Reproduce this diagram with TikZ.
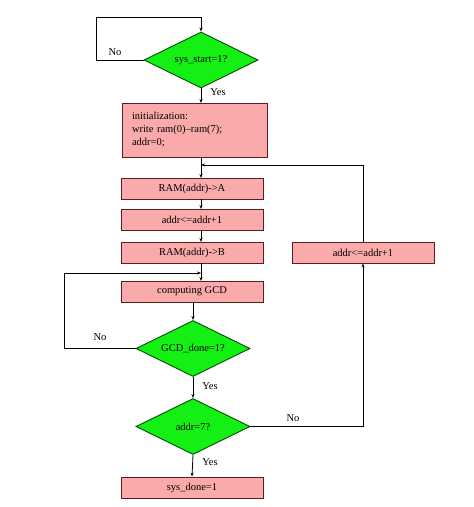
\documentclass[tikz,border=0pt]{standalone}
\usepackage{fontspec}
\setmainfont{Liberation Serif}
\usetikzlibrary{shapes.geometric,arrows.meta}
\definecolor{boxfill}{RGB}{250,170,170}
\definecolor{boxdraw}{RGB}{90,30,30}
\definecolor{dia}{RGB}{20,240,20}
\begin{document}
\begin{tikzpicture}[x=1pt,y=-1pt,font=\fontsize{10.5}{13}\selectfont,
  box/.style={draw=boxdraw,line width=0.9pt,fill=boxfill,minimum width=142pt,minimum height=21pt,inner sep=0pt},
  dec/.style={draw=black!70!green,line width=0.9pt,fill=dia,diamond,aspect=2,minimum width=114pt,minimum height=56pt,inner sep=0pt},
  ar/.style={-{Stealth[length=4pt,width=3pt]},line width=0.8pt},
  ln/.style={line width=0.8pt},
  lbl/.style={inner sep=1pt}]
\useasboundingbox (0,0) rectangle (474,507);
\node[dec] (d1) at (201,60) {sys\_start=1?};
\node[box,minimum width=145pt,minimum height=54pt,align=left,text width=125pt] (init) at (194.5,130) {initialization:\\write ram(0)--ram(7);\\addr=0;};
\node[box] (ra) at (192,188.5) {RAM(addr)->A};
\node[box] (inc) at (192,219.5) {addr<=addr+1};
\node[box] (rb) at (192,252.5) {RAM(addr)->B};
\node[box] (gcd) at (192,291.5) {computing GCD};
\node[dec] (d2) at (193,348.5) {GCD\_done=1?};
\node[dec] (d3) at (193,426.5) {addr=7?};
\node[box] (inc2) at (363,252.5) {addr<=addr+1};
\node[box] (done) at (192,487.5) {sys\_done=1};
\coordinate (c1) at (96,17);
\coordinate (m1) at (201,165);
\coordinate (m2) at (201,273);
\draw[ln] (d1.west) -| (c1) -- (201,17);
\draw[ar] (201,17) -- (d1.north);
\node[lbl] at (115,52) {No};
\draw[ar] (d1.south) -- (201,103);
\node[lbl] at (218,92) {Yes};
\draw[ln] (201,157) -- (m1);
\draw[ar] (m1) -- (201,178);
\draw[ar] (201,199) -- (201,209);
\draw[ar] (201,230) -- (201,242);
\draw[ln] (201,263) -- (m2);
\draw[ar] (m2) -- (201,281);
\draw[ar] (d2.west) -| (64,273) -- (m2);
\node[lbl] at (100,337) {No};
\draw[ar] (193,302) -- (d2.north);
\draw[ar] (d2.south) -- (d3.north);
\node[lbl] at (210,386) {Yes};
\draw[ar] (d3.east) -| (inc2.south);
\node[lbl] at (293,418) {No};
\draw[ar] (inc2.north) |- (m1);
\draw[ar] (d3.south) -- (done.north);
\node[lbl] at (210,462) {Yes};
\end{tikzpicture}
\end{document}
